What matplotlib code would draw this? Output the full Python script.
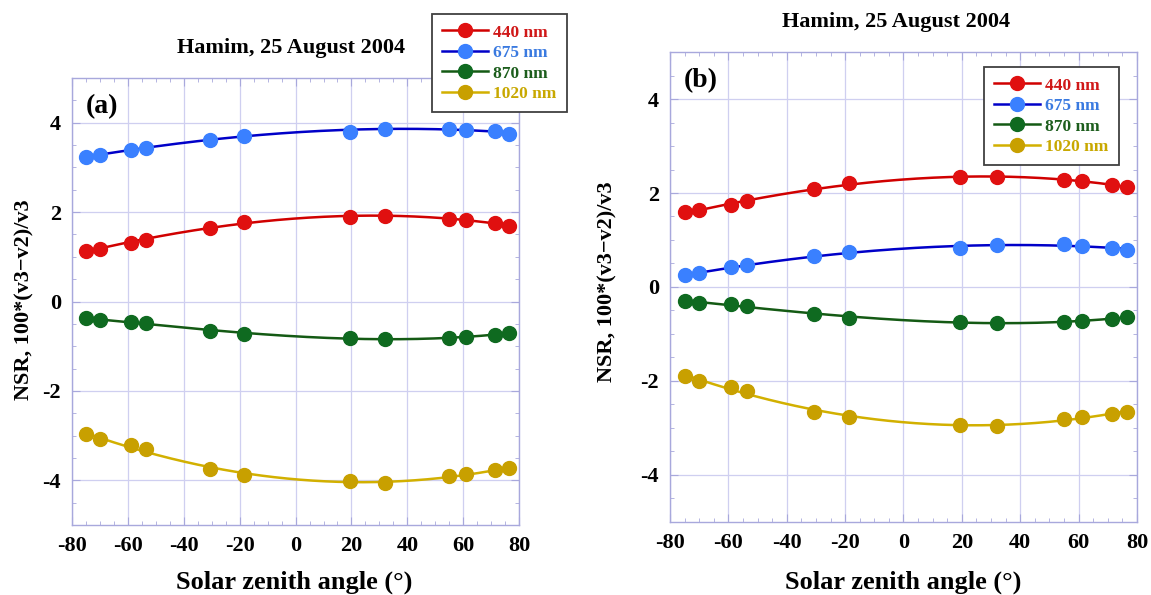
import numpy as np
import matplotlib
matplotlib.use("Agg")
import matplotlib.pyplot as plt
from matplotlib.ticker import MultipleLocator

# ---------------- data ----------------
sza = [-75, -70, -59, -53.5, -30.5, -18.5, 19.5, 32, 55, 61, 71.5, 76.5]
labels = ["440 nm", "675 nm", "870 nm", "1020 nm"]

# panel (a)
a_440 = [1.14, 1.18, 1.32, 1.38, 1.65, 1.78, 1.90, 1.92, 1.85, 1.82, 1.75, 1.70]
a_675 = [3.24, 3.27, 3.40, 3.44, 3.62, 3.71, 3.80, 3.87, 3.87, 3.84, 3.82, 3.75]
a_870 = [-0.37, -0.42, -0.46, -0.48, -0.65, -0.72, -0.81, -0.84, -0.82, -0.80, -0.74, -0.70]
a_1020 = [-2.97, -3.08, -3.21, -3.31, -3.74, -3.88, -4.02, -4.05, -3.91, -3.85, -3.78, -3.73]

# panel (b)
b_440 = [1.59, 1.63, 1.75, 1.82, 2.09, 2.21, 2.33, 2.35, 2.28, 2.25, 2.18, 2.13]
b_675 = [0.25, 0.29, 0.43, 0.46, 0.65, 0.74, 0.84, 0.89, 0.91, 0.87, 0.84, 0.79]
b_870 = [-0.30, -0.33, -0.37, -0.40, -0.58, -0.65, -0.74, -0.77, -0.74, -0.72, -0.68, -0.64]
b_1020 = [-1.89, -2.00, -2.13, -2.22, -2.65, -2.77, -2.93, -2.96, -2.80, -2.77, -2.70, -2.66]

title = "Hamim, 25 August 2004"
xlabel = "Solar zenith angle (\u00b0)"
ylabel = "NSR, 100*(v3\u2212v2)/v3"
xticks = [-80, -60, -40, -20, 0, 20, 40, 60, 80]
yticks = [-4, -2, 0, 2, 4]

line_colors = ["#d00000", "#0000c8", "#145a14", "#d2b000"]
marker_colors = ["#e01010", "#3a80ff", "#0f6a20", "#c8a000"]
text_colors = ["#d01818", "#3a7ae0", "#1d5e1d", "#c8a800"]

# ---------------- style ----------------
plt.rcParams["font.family"] = ["Liberation Serif", "DejaVu Serif"]
plt.rcParams["font.weight"] = "bold"
plt.rcParams["axes.unicode_minus"] = False

fig = plt.figure(figsize=(11.51, 5.95), dpi=100)

axA = fig.add_axes([0.0626, 0.1176, 0.3884, 0.7513])
axB = fig.add_axes([0.5821, 0.1227, 0.4057, 0.7899])

spine_col = "#a8a8dc"
grid_col = "#cfcff0"


def draw(ax, series, tag, legend_anchor):
    xs = np.array(sza, dtype=float)
    xfine = np.linspace(xs.min(), xs.max(), 300)
    handles = []
    for ys, lc, mc, lab in zip(series, line_colors, marker_colors, labels):
        ys = np.array(ys, dtype=float)
        coef = np.polyfit(xs, ys, 3)
        ax.plot(xfine, np.polyval(coef, xfine), color=lc, lw=1.8, zorder=3)
        ax.plot(xs, ys, "o", color=mc, ms=10, mec=mc, zorder=4)
        h, = ax.plot([], [], "-o", color=lc, lw=1.8, ms=10, mfc=mc, mec=mc,
                     label=lab)
        handles.append(h)
    ax.set_xlim(-80, 80)
    ax.set_ylim(-5, 5)
    ax.set_xticks(xticks)
    ax.set_yticks(yticks)
    ax.xaxis.set_minor_locator(MultipleLocator(5))
    ax.yaxis.set_minor_locator(MultipleLocator(0.5))
    ax.tick_params(which="both", direction="in", top=True, right=True,
                   color=spine_col, labelsize=16, pad=8)
    ax.tick_params(which="major", length=6)
    ax.tick_params(which="minor", length=3)
    for lbl in ax.get_xticklabels() + ax.get_yticklabels():
        lbl.set_fontweight("bold")
    ax.grid(True, which="major", color=grid_col, lw=0.9)
    ax.set_axisbelow(True)
    for s in ax.spines.values():
        s.set_color(spine_col)
        s.set_linewidth(1.0)
    ax.text(0.03, 0.965, tag, transform=ax.transAxes, fontsize=20,
            fontweight="bold", va="top", ha="left")
    leg = fig.legend(handles=handles, loc="upper left",
                     bbox_to_anchor=legend_anchor,
                     bbox_transform=fig.transFigure,
                     prop={"size": 12.5, "weight": "bold"},
                     handlelength=2.6, handletextpad=0.3, labelspacing=0.25,
                     borderpad=0.6, borderaxespad=0.0,
                     fancybox=False, framealpha=1)
    leg.get_frame().set_edgecolor("#404040")
    leg.get_frame().set_linewidth(1.3)
    for t, c in zip(leg.get_texts(), text_colors):
        t.set_color(c)
    return leg


draw(axA, [a_440, a_675, a_870, a_1020], "(a)", (432 / 1151, 1 - 14 / 595))
draw(axB, [b_440, b_675, b_870, b_1020], "(b)", (984 / 1151, 1 - 67 / 595))

# titles
fig.text(291 / 1151, 1 - 48 / 595, title, ha="center", va="center",
         fontsize=16, fontweight="bold")
fig.text(896 / 1151, 1 - 22 / 595, title, ha="center", va="center",
         fontsize=16, fontweight="bold")

# axis labels
fig.text(294 / 1151, 1 - 582 / 595, xlabel, ha="center", va="center",
         fontsize=19, fontweight="bold")
fig.text(903 / 1151, 1 - 582 / 595, xlabel, ha="center", va="center",
         fontsize=19, fontweight="bold")
fig.text(24 / 1151, 1 - 300 / 595, ylabel, ha="center", va="center",
         rotation=90, fontsize=16, fontweight="bold")
fig.text(607 / 1151, 1 - 282 / 595, ylabel, ha="center", va="center",
         rotation=90, fontsize=16, fontweight="bold")

fig.savefig("out.png", dpi=100)
